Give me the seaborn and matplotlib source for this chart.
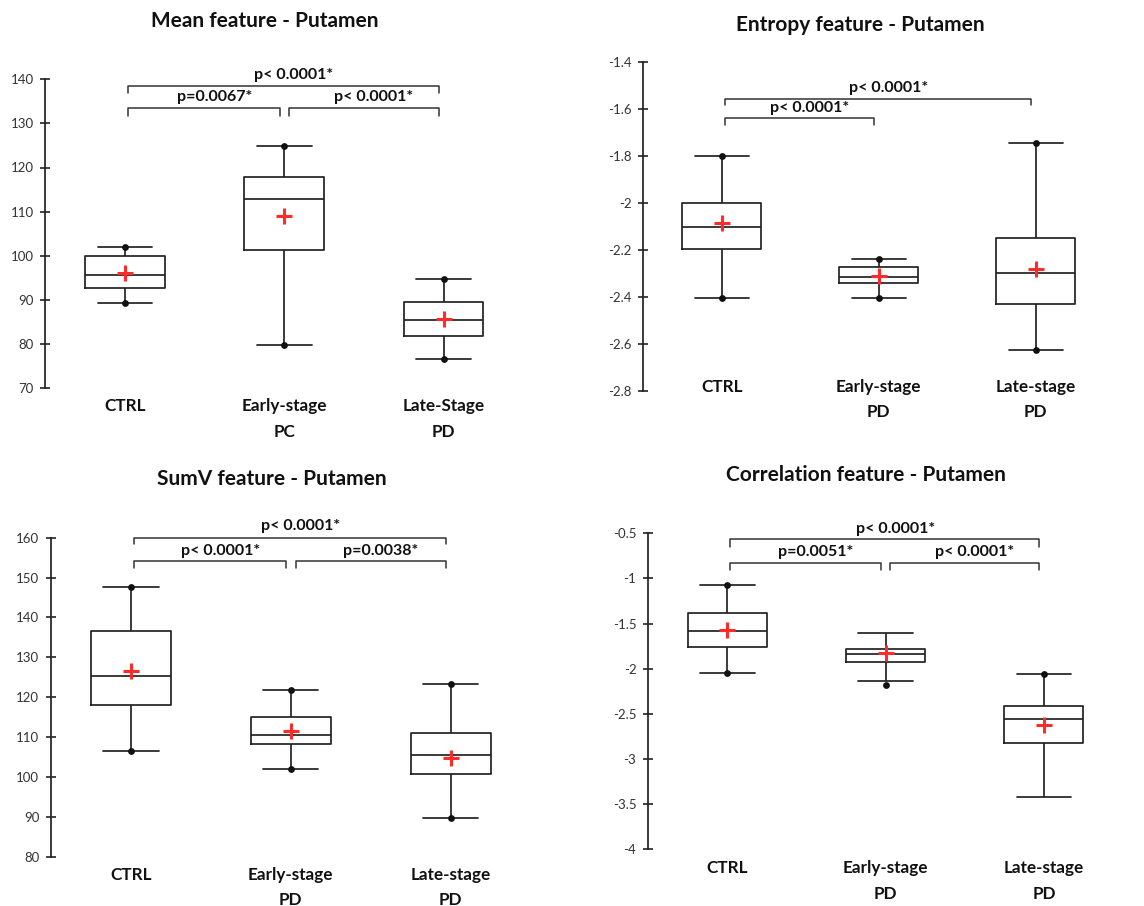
import numpy as np
import pandas as pd
import matplotlib
matplotlib.use("Agg")
import matplotlib.pyplot as plt
import matplotlib.transforms as mtransforms
import seaborn as sns

sns.set_theme(style="white")
plt.rcParams["font.family"] = ["Lato", "DejaVu Sans"]

# ---------------- data ----------------
# Panel 1: Mean feature
mean_cats = ["CTRL", "Early-stage\nPC", "Late-Stage\nPD"]
mean_whislo = [89.3, 79.8, 76.5]
mean_q1 = [92.6, 101.3, 81.9]
mean_med = [95.6, 112.9, 85.4]
mean_q3 = [100.0, 117.9, 89.6]
mean_whishi = [101.9, 124.9, 94.7]
mean_avg = [96.0, 109.1, 85.6]
mean_dot_lo = [89.3, 79.8, 76.5]
mean_dot_hi = [101.9, 124.9, 94.7]
mean_yticks = [70, 80, 90, 100, 110, 120, 130, 140]
mean_yticklabels = ["70", "80", "90", "100", "110", "120", "130", "140"]
mean_pvals = ["p=0.0067*", "p< 0.0001*", "p< 0.0001*"]  # left, right, full

# Panel 2: Entropy feature
ent_cats = ["CTRL", "Early-stage\nPD", "Late-stage\nPD"]
ent_whislo = [-2.404, -2.404, -2.628]
ent_q1 = [-2.196, -2.343, -2.431]
ent_med = [-2.102, -2.318, -2.298]
ent_q3 = [-2.0, -2.275, -2.151]
ent_whishi = [-1.80, -2.24, -1.747]
ent_avg = [-2.085, -2.312, -2.282]
ent_dot_lo = [-2.404, -2.404, -2.628]
ent_dot_hi = [-1.80, -2.24, -1.747]
ent_yticks = [-2.8, -2.6, -2.4, -2.2, -2.0, -1.8, -1.6, -1.4]
ent_yticklabels = ["-2.8", "-2.6", "-2.4", "-2.2", "-2", "-1.8", "-1.6", "-1.4"]
ent_pvals = ["p< 0.0001*", None, "p< 0.0001*"]

# Panel 3: SumV feature
sumv_cats = ["CTRL", "Early-stage\nPD", "Late-stage\nPD"]
sumv_whislo = [106.5, 102.0, 89.8]
sumv_q1 = [118.1, 108.3, 100.8]
sumv_med = [125.4, 110.6, 105.6]
sumv_q3 = [136.6, 115.1, 111.1]
sumv_whishi = [147.6, 121.8, 123.2]
sumv_avg = [126.6, 111.6, 104.8]
sumv_dot_lo = [106.5, 102.0, 89.8]
sumv_dot_hi = [147.6, 121.8, 123.2]
sumv_yticks = [80, 90, 100, 110, 120, 130, 140, 150, 160]
sumv_yticklabels = ["80", "90", "100", "110", "120", "130", "140", "150", "160"]
sumv_pvals = ["p< 0.0001*", "p=0.0038*", "p< 0.0001*"]

# Panel 4: Correlation feature
corr_cats = ["CTRL", "Early-stage\nPD", "Late-stage\nPD"]
corr_whislo = [-2.051, -2.133, -3.42]
corr_q1 = [-1.756, -1.929, -2.819]
corr_med = [-1.582, -1.833, -2.553]
corr_q3 = [-1.379, -1.785, -2.413]
corr_whishi = [-1.073, -1.608, -2.062]
corr_avg = [-1.574, -1.83, -2.627]
corr_dot_lo = [-2.051, -2.18, np.nan]
corr_dot_hi = [-1.073, np.nan, -2.062]
corr_yticks = [-4.0, -3.5, -3.0, -2.5, -2.0, -1.5, -1.0, -0.5]
corr_yticklabels = ["-4", "-3.5", "-3", "-2.5", "-2", "-1.5", "-1", "-0.5"]
corr_pvals = ["p=0.0051*", "p< 0.0001*", "p< 0.0001*"]

titles = ["Mean feature - Putamen", "Entropy feature - Putamen",
          "SumV feature - Putamen", "Correlation feature - Putamen"]

# ---------------- layout (pixels) ----------------
W, H = 1144, 906
fig = plt.figure(figsize=(W / 100, H / 100), dpi=100)
fig.patch.set_facecolor("white")

# (first category centre x, category spacing, top y, bottom y)
geoms = [(125, 159.3, 79.3, 388.0),
         (721.7, 157.0, 61.7, 390.7),
         (131, 159.8, 537.7, 856.7),
         (727.3, 158.3, 533.3, 849.3)]
title_pos = [(265, 21), (860, 25), (272, 479), (866, 475)]
xlabel_pad = [7.5, -8.5, 7.5, 8.0]
# bracket fractions: full line, full tick end, lower line, lower tick end, full text, lower text
bracket_y = [(0.978, 0.956, 0.907, 0.881, 1.014, 0.943),
             (0.888, 0.868, 0.828, 0.808, 0.919, 0.858),
             (1.000, 0.979, 0.927, 0.904, 1.037, 0.959),
             (0.981, 0.956, 0.907, 0.884, 1.013, 0.942)]

panels = [
    (mean_cats, mean_whislo, mean_q1, mean_med, mean_q3, mean_whishi, mean_avg,
     mean_dot_lo, mean_dot_hi, mean_yticks, mean_yticklabels, mean_pvals),
    (ent_cats, ent_whislo, ent_q1, ent_med, ent_q3, ent_whishi, ent_avg,
     ent_dot_lo, ent_dot_hi, ent_yticks, ent_yticklabels, ent_pvals),
    (sumv_cats, sumv_whislo, sumv_q1, sumv_med, sumv_q3, sumv_whishi, sumv_avg,
     sumv_dot_lo, sumv_dot_hi, sumv_yticks, sumv_yticklabels, sumv_pvals),
    (corr_cats, corr_whislo, corr_q1, corr_med, corr_q3, corr_whishi, corr_avg,
     corr_dot_lo, corr_dot_hi, corr_yticks, corr_yticklabels, corr_pvals),
]

LINE = "#222222"
TXT = "#111111"
CAPW = 0.345

for k, (cats, wlo, q1, med, q3, whi, avg, dlo, dhi, yt, ytl, pv) in enumerate(panels):
    cx, sp, top, bot = geoms[k]
    left_px = cx - 0.5 * sp
    ax = fig.add_axes([left_px / W, 1 - bot / H, 3 * sp / W, (bot - top) / H])

    df = pd.DataFrame({
        "group": np.repeat(cats, 5),
        "value": np.column_stack([wlo, q1, med, q3, whi]).ravel(),
    })
    kw = dict(data=df, x="group", y="value", order=cats, whis=(0, 100),
              width=0.5, fill=False, color=LINE, linewidth=1.25, ax=ax)
    try:
        sns.boxplot(capwidths=CAPW, **kw)
    except Exception:
        ax.cla()
        sns.boxplot(**kw)

    xs = np.arange(len(cats))
    ax.scatter(xs, dlo, s=24, color="#111111", zorder=4, linewidths=0)
    ax.scatter(xs, dhi, s=24, color="#111111", zorder=4, linewidths=0)
    ax.plot(xs, avg, ls="none", marker="+", ms=11, mew=2.2, color="#ff2b2b", zorder=5)

    ax.set_xlim(-0.5, 2.5)
    ax.set_ylim(yt[0], yt[-1])
    ax.set_yticks(yt)
    ax.set_yticklabels(ytl)
    ax.set_xlabel("")
    ax.set_ylabel("")
    for s in ["top", "right", "bottom"]:
        ax.spines[s].set_visible(False)
    ax.spines["left"].set_color(LINE)
    ax.spines["left"].set_linewidth(1.25)
    ax.tick_params(axis="y", direction="inout", length=7, width=1.2, color=LINE,
                   labelsize=9.5, labelcolor="#333333", pad=5, left=True)
    ax.tick_params(axis="x", length=0, pad=xlabel_pad[k], labelsize=12.3,
                   labelcolor=TXT, bottom=False)
    for lbl in ax.get_xticklabels():
        lbl.set_fontweight("bold")
        lbl.set_linespacing(1.7)
    ax.grid(False)

    # significance brackets
    tr = mtransforms.blended_transform_factory(ax.transData, ax.transAxes)
    fy, ft, ly, lt, fty, lty = bracket_y[k]
    bk = dict(color="#333333", lw=1.1, transform=tr, clip_on=False)
    ax.plot([0.02, 0.02, 1.97, 1.97], [ft, fy, fy, ft], **bk)
    ax.text(1.06, fty, pv[2], transform=tr, ha="center", va="center",
            fontsize=11.5, fontweight="bold", color=TXT)
    ax.plot([0.02, 0.02, 0.97, 0.97], [lt, ly, ly, lt], **bk)
    ax.text(0.56, lty, pv[0], transform=tr, ha="center", va="center",
            fontsize=11.5, fontweight="bold", color=TXT)
    if pv[1] is not None:
        ax.plot([1.03, 1.03, 1.97, 1.97], [lt, ly, ly, lt], **bk)
        ax.text(1.56, lty, pv[1], transform=tr, ha="center", va="center",
                fontsize=11.5, fontweight="bold", color=TXT)

    tx, ty = title_pos[k]
    fig.text(tx / W, 1 - ty / H, titles[k], ha="center", va="center",
             fontsize=15, fontweight="bold", color=TXT)

fig.savefig("out.png", dpi=100, facecolor="white")
